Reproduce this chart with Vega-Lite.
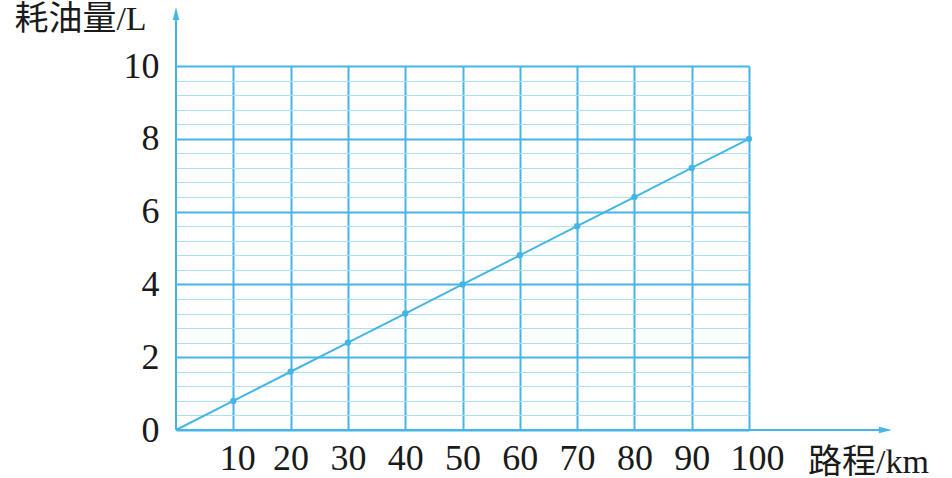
{
  "$schema": "https://vega.github.io/schema/vega-lite/v6.json",
  "width": 573,
  "height": 364,
  "autosize": {"type": "none"},
  "padding": {"left": 176, "top": 66, "right": 203, "bottom": 48},
  "background": "white",
  "config": {
    "view": {"stroke": null},
    "axis": {
      "labelFont": "Liberation Serif",
      "labelFontSize": 36,
      "labelColor": "#1a1a1a",
      "labelOverlap": false,
      "labelFlush": false,
      "titleFont": "Liberation Serif, Noto Sans CJK SC",
      "titleFontSize": 34,
      "titleFontWeight": "normal",
      "titleColor": "#1a1a1a"
    }
  },
  "datasets": {
    "fuel": [
      {"x": 0, "y": 0},
      {"x": 10, "y": 0.8},
      {"x": 20, "y": 1.6},
      {"x": 30, "y": 2.4},
      {"x": 40, "y": 3.2},
      {"x": 50, "y": 4.0},
      {"x": 60, "y": 4.8},
      {"x": 70, "y": 5.6},
      {"x": 80, "y": 6.4},
      {"x": 90, "y": 7.2},
      {"x": 100, "y": 8.0}
    ],
    "arrows": [
      {"x": 0, "y": 0, "x2": 123.8, "y2": 0},
      {"x": 0, "y": 0, "x2": 0, "y2": 11.44}
    ],
    "heads": [
      {"x": 123.8, "y": 0, "dir": "right"},
      {"x": 0, "y": 11.44, "dir": "up"}
    ]
  },
  "layer": [
    {
      "data": {"name": "fuel"},
      "mark": {"type": "line", "color": "#45b5e6", "strokeWidth": 2},
      "encoding": {
        "x": {"field": "x", "type": "quantitative",
          "scale": {"domain": [0, 100], "nice": false, "zero": false},
          "axis": {
            "values": [10, 20, 30, 40, 50, 60, 70, 80, 90, 100],
            "grid": true, "gridColor": "#45b5e6", "gridWidth": 2,
            "ticks": false, "domain": false,
            "labelPadding": 11, "labelBaseline": "top", "labelFlush": false,
            "labelOffset": {"condition": [{"test": "datum.value == 100", "value": 8}, {"test": "datum.value == 10", "value": 4}], "value": 0},
            "title": "路程/km", "titleAngle": 0, "titleX": 692, "titleY": 32,
            "titleAlign": "center", "titleBaseline": "middle"
          }
        },
        "y": {"field": "y", "type": "quantitative",
          "scale": {"domain": [0, 10], "nice": false, "zero": false},
          "axis": {
            "orient": "left",
            "values": [0, 2, 4, 6, 8, 10],
            "grid": true, "gridColor": "#45b5e6", "gridWidth": 2,
            "ticks": false, "domain": false,
            "labelPadding": 17, "labelBaseline": "middle", "labelFlush": false,
            "title": "耗油量/L", "titleAngle": 0, "titleX": -96, "titleY": -47,
            "titleAlign": "center", "titleBaseline": "middle"
          }
        }
      }
    },
    {
      "data": {"name": "arrows"},
      "mark": {"type": "rule", "color": "#45b5e6", "strokeWidth": 2, "clip": false},
      "encoding": {
        "x": {"field": "x", "type": "quantitative"},
        "x2": {"field": "x2"},
        "y": {"field": "y", "type": "quantitative",
          "axis": {
            "orient": "right",
            "values": [0.4, 0.8, 1.2, 1.6, 2.4, 2.8, 3.2, 3.6, 4.4, 4.8, 5.2, 5.6, 6.4, 6.8, 7.2, 7.6, 8.4, 8.8, 9.2, 9.6],
            "grid": true, "gridColor": "#addff3", "gridWidth": 1,
            "labels": false, "ticks": false, "domain": false, "title": null
          }
        },
        "y2": {"field": "y2"}
      }
    },
    {
      "data": {"name": "fuel"},
      "transform": [{"filter": "datum.x > 0"}],
      "mark": {"type": "point", "filled": true, "color": "#45b5e6", "size": 40, "opacity": 1},
      "encoding": {
        "x": {"field": "x", "type": "quantitative"},
        "y": {"field": "y", "type": "quantitative", "axis": null}
      }
    },
    {
      "data": {"name": "heads"},
      "mark": {"type": "point", "filled": true, "color": "#45b5e6", "size": 169, "opacity": 1, "clip": false},
      "encoding": {
        "x": {"field": "x", "type": "quantitative"},
        "y": {"field": "y", "type": "quantitative", "axis": null},
        "shape": {"field": "dir", "type": "nominal",
          "scale": {"domain": ["right", "up"], "range": ["M1,0L-1,-0.5L-1,0.5Z", "M0,-1L-0.5,1L0.5,1Z"]},
          "legend": null}
      }
    }
  ],
  "resolve": {"axis": {"y": "independent"}}
}
